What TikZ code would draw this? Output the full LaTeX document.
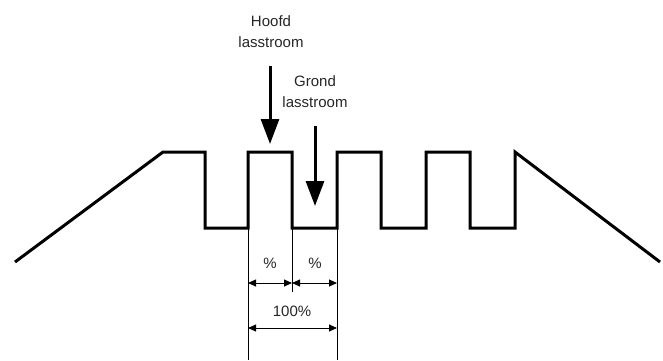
\documentclass[tikz,border=0pt]{standalone}
\usepackage{fontspec}
\setmainfont{Liberation Sans}
\usetikzlibrary{arrows.meta}
\begin{document}
\begin{tikzpicture}[x=1pt,y=-1pt,
  lbl/.style={inner sep=0pt,align=center,font=\fontsize{15}{21}\selectfont,text=black!85},
  wave/.style={line width=3pt,line join=miter},
  bigarrow/.style={line width=3pt,-{Triangle[length=25pt,width=18pt]}},
  dimline/.style={line width=0.6pt},
  dimarrow/.style={line width=0.9pt,{Triangle[length=8pt,width=7pt]}-{Triangle[length=8pt,width=7pt]}}]
\useasboundingbox (0,0) rectangle (663,360);
% waveform
\draw[wave] (15,262) -- (163,152) -- (205,152) -- (205,228) -- (248,228) -- (248,152)
  -- (292,152) -- (292,228) -- (337,228) -- (337,152) -- (381,152) -- (381,228)
  -- (426,228) -- (426,152) -- (470,152) -- (470,228) -- (515,228) -- (515,152) -- (660,262);
% labels
\node[lbl] (hoofd) at (271,32) {Hoofd\\lasstroom};
\node[lbl] (grond) at (315,92) {Grond\\lasstroom};
\coordinate (hs) at (270,66);
\coordinate (he) at (270,144);
\coordinate (gs) at (315,126);
\coordinate (ge) at (315,206);
\draw[bigarrow] (hs) -- (he);
\draw[bigarrow] (gs) -- (ge);
% dimension lines
\coordinate (l1) at (248,228); \coordinate (l1b) at (248,360);
\coordinate (m1) at (292,228); \coordinate (m1b) at (292,292);
\coordinate (r1) at (337,228); \coordinate (r1b) at (337,360);
\draw[dimline] (l1) -- (l1b);
\draw[dimline] (m1) -- (m1b);
\draw[dimline] (r1) -- (r1b);
\coordinate (a1) at (248,283); \coordinate (a2) at (292,283); \coordinate (a3) at (337,283);
\draw[dimarrow] (a1) -- (a2);
\draw[dimarrow] (a2) -- (a3);
\coordinate (b1) at (248,328); \coordinate (b2) at (337,328);
\draw[dimarrow] (b1) -- (b2);
\node[lbl] (p1) at (270,263) {\%};
\node[lbl] (p2) at (315,263) {\%};
\node[lbl] (p3) at (292,311) {100\%};
\end{tikzpicture}
\end{document}
